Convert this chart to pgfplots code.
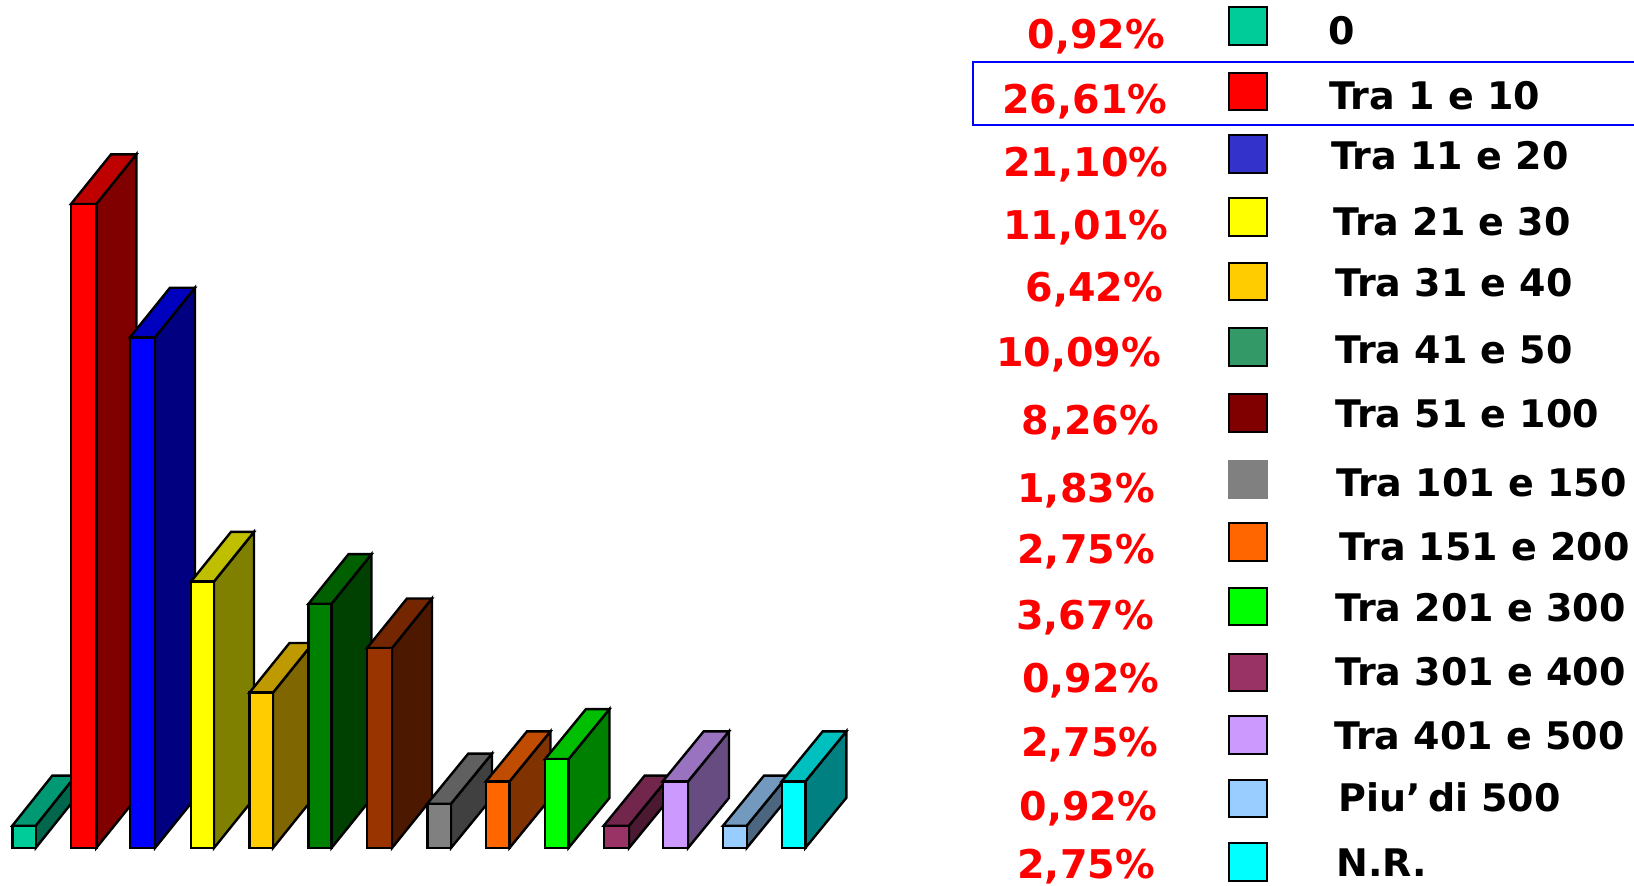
\documentclass[border=0pt]{standalone}
\usepackage{pgfplots}
\pgfplotsset{compat=1.18}
\usepackage{fontspec}
\setmainfont{DejaVu Sans}

\definecolor{c0}{HTML}{00CC99}
\definecolor{c1}{HTML}{FF0000}
\definecolor{c2}{HTML}{0000FF}
\definecolor{s2}{HTML}{3333CC}
\definecolor{c3}{HTML}{FFFF00}
\definecolor{c4}{HTML}{FFCC00}
\definecolor{c5}{HTML}{008000}
\definecolor{s5}{HTML}{339966}
\definecolor{c6}{HTML}{993300}
\definecolor{s6}{HTML}{800000}
\definecolor{c7}{HTML}{808080}
\definecolor{c8}{HTML}{FF6600}
\definecolor{c9}{HTML}{00FF00}
\definecolor{c10}{HTML}{993366}
\definecolor{c11}{HTML}{CC99FF}
\definecolor{c12}{HTML}{99CCFF}
\definecolor{c13}{HTML}{00FFFF}

% one picture pixel = 0.5pt
\newcommand{\dbar}[5]{% left, right, value, depth (in %), front colour
  \pgfmathsetmacro{\xb}{#2+\barDx}\pgfmathsetmacro{\xc}{#1+\barDx}%
  \pgfmathsetmacro{\yt}{#3+#4}\pgfmathsetmacro{\yb}{#4}%
  \edef\temp{\noexpand\addplot[fill=#5!50!black,draw=black,line width=1.2pt] coordinates {(#2,0) (\xb,\yb) (\xb,\yt) (#2,#3)} --cycle;
    \noexpand\addplot[fill=#5!75!black,draw=black,line width=1.2pt] coordinates {(#1,#3) (#2,#3) (\xb,\yt) (\xc,\yt)} --cycle;
    \noexpand\addplot[fill=#5,draw=black,line width=1.2pt] coordinates {(#1,0) (#2,0) (#2,#3) (#1,#3)} --cycle;}%
  \temp}
\newcommand{\swatch}[3][black]{% top y, colour
  \pgfmathsetmacro{\yb}{#2+36}%
  \edef\temp{\noexpand\addplot[fill=#3,draw=#1,line width=1pt] coordinates {(1179.5,#2) (1215.5,#2) (1215.5,\yb) (1179.5,\yb)} --cycle;}%
  \temp}
\newcommand{\pct}[3]{\node[anchor=base east,text=c1,font=\fontsize{19.8}{22}\selectfont\bfseries,inner sep=0pt] at (axis cs:#1,#2) {#3};}
\newcommand{\lab}[3]{\node[anchor=base west,text=black,font=\fontsize{19}{22}\selectfont\bfseries,inner sep=0pt] at (axis cs:#1,#2) {#3};}

\begin{document}
\begin{tikzpicture}[x=1pt,y=1pt]
\useasboundingbox (0,0) rectangle (817pt,443pt);
\begin{axis}[
    at={(0,0)}, anchor=south west,
    scale only axis, width=817pt, height=443pt,
    xmin=0, xmax=1634, ymin=-1.57, ymax=35.04,
    hide axis, clip=false, no markers,
]
\def\barDx{40}
\dbar{12.3}{35.7}{0.92}{2.07}{c0}
\dbar{71}{96.3}{26.61}{2.05}{c1}
\dbar{130}{155}{21.10}{2.05}{c2}
\dbar{191}{214}{11.01}{2.05}{c3}
\dbar{249.5}{273}{6.42}{2.05}{c4}
\dbar{308.5}{331.5}{10.09}{2.05}{c5}
\dbar{367}{392}{8.26}{2.05}{c6}
\def\barDx{41}
\dbar{427.3}{451}{1.83}{2.07}{c7}
\dbar{486}{509.5}{2.75}{2.07}{c8}
\dbar{545}{568.5}{3.67}{2.07}{c9}
\dbar{603.7}{629}{0.92}{2.07}{c10}
\dbar{662.7}{688}{2.75}{2.07}{c11}
\dbar{723}{746.7}{0.92}{2.07}{c12}
\dbar{781.7}{805.3}{2.75}{2.07}{c13}
\end{axis}
\begin{axis}[
    at={(0,0)}, anchor=south west,
    scale only axis, width=817pt, height=443pt,
    xmin=0, xmax=1568, ymin=0, ymax=850, y dir=reverse,
    hide axis, clip=false, no markers,
]
\draw[c2,line width=1pt] (axis cs:1575,59) -- (axis cs:933.5,59) -- (axis cs:933.5,120) -- (axis cs:1575,120);
\swatch{7}{c0}
\swatch{70}{c1}
\swatch{129.5}{s2}
\swatch{190}{c3}
\swatch{252}{c4}
\swatch{315}{s5}
\swatch{378}{s6}
\swatch[c7]{442}{c7}
\swatch{502}{c8}
\swatch{564}{c9}
\swatch{627}{c10}
\swatch{687}{c11}
\swatch{748}{c12}
\swatch{809}{c13}
\pct{1118.5}{46.5}{0,92\%}
\pct{1120.5}{109}{26,61\%}
\pct{1121.5}{169.5}{21,10\%}
\pct{1121.5}{229.5}{11,01\%}
\pct{1116.5}{289}{6,42\%}
\pct{1114.5}{352}{10,09\%}
\pct{1112.5}{417}{8,26\%}
\pct{1108.5}{482.5}{1,83\%}
\pct{1108.5}{541}{2,75\%}
\pct{1107.5}{603.5}{3,67\%}
\pct{1113}{664.5}{0,92\%}
\pct{1112}{725.5}{2,75\%}
\pct{1110.5}{787.5}{0,92\%}
\pct{1108.5}{843}{2,75\%}
\lab{1274}{43}{0}
\lab{1275}{105}{Tra 1 e 10}
\lab{1277}{162.5}{Tra 11 e 20}
\lab{1279}{225.5}{Tra 21 e 30}
\lab{1281}{284.5}{Tra 31 e 40}
\lab{1281}{348.5}{Tra 41 e 50}
\lab{1281}{410.5}{Tra 51 e 100}
\lab{1282}{476.5}{Tra 101 e 150}
\lab{1285}{538}{Tra 151 e 200}
\lab{1281}{596.5}{Tra 201 e 300}
\lab{1281}{658}{Tra 301 e 400}
\lab{1280}{719.5}{Tra 401 e 500}
\lab{1284}{779}{Piu’\kern-3pt{} di 500}
\lab{1282}{841}{N.R.}
\end{axis}
\end{tikzpicture}
\end{document}
